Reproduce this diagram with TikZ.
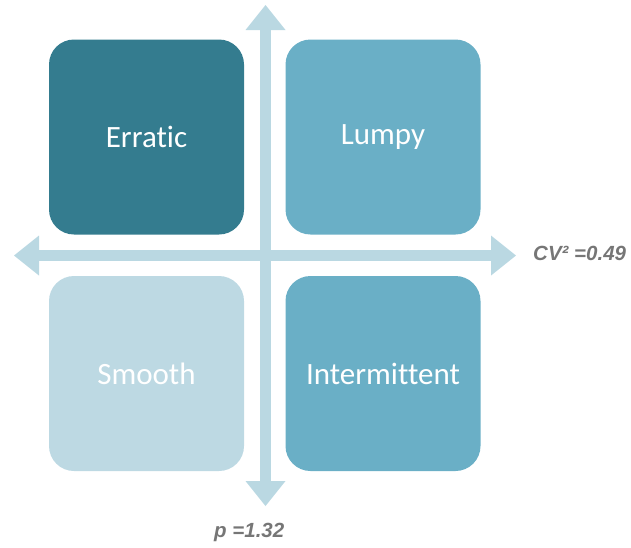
\documentclass[tikz,border=0pt]{standalone}
\usepackage{fontspec}
\setmainfont{Carlito}[Ligatures=NoCommon]
\newfontfamily\labelfont{Liberation Sans}
\usetikzlibrary{arrows.meta}

\definecolor{erraticfill}{HTML}{347C8F}
\definecolor{lumpyfill}{HTML}{6AAFC6}
\definecolor{smoothfill}{HTML}{BDD9E3}
\definecolor{axisfill}{HTML}{BAD8E2}
\definecolor{labelgray}{HTML}{767676}

\tikzset{
  quad/.style={draw=none, rounded corners=25pt, minimum width=195pt,
    minimum height=195pt, inner sep=0pt, text=white,
    font=\fontsize{31}{37}\selectfont},
  axis/.style={draw=axisfill, line width=10.5pt,
    {Triangle[length=25pt, width=40pt, line width=0pt]}-{Triangle[length=25pt, width=40pt, line width=0pt]}},
  threshold/.style={text=labelgray, inner sep=0pt,
    font=\labelfont\bfseries\itshape\fontsize{20.5}{24}\selectfont}
}

\begin{document}
\begin{tikzpicture}[x=1pt, y=-1pt]
  \useasboundingbox (0,0) rectangle (631,547);

  % four demand-pattern quadrants
  \node[quad, fill=erraticfill] (erratic)      at (146.5,137)   {Erratic};
  \node[quad, fill=lumpyfill]   (lumpy)        at (383,137)     {Lumpy};
  \node[quad, fill=smoothfill]  (smooth)       at (146.5,373.5) {Smooth};
  \node[quad, fill=lumpyfill]   (intermittent) at (383,373.5)   {Intermittent};

  % axis end points
  \coordinate (vtop)   at (265.5,5);
  \coordinate (vbot)   at (265.5,506);
  \coordinate (hleft)  at (14,255.5);
  \coordinate (hright) at (516,255.5);

  % double-headed axes
  \draw[axis] (vbot) -- (vtop);
  \draw[axis] (hleft) -- (hright);

  % threshold labels
  \node[threshold, anchor=base west] (cvlabel) at (533,260) {CV² =0.49};
  \node[threshold, anchor=base west] (plabel)  at (214,537) {p =1.32};
\end{tikzpicture}
\end{document}
